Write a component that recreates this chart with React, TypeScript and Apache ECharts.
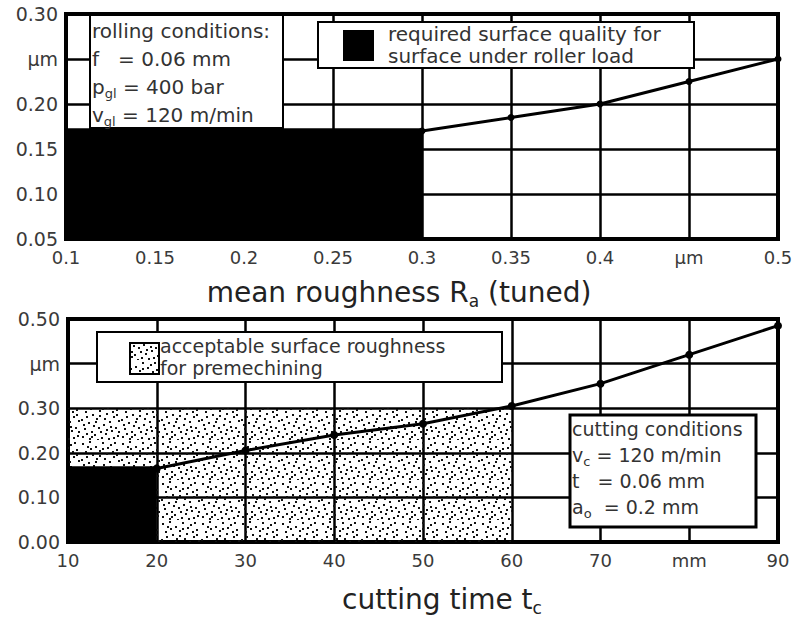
import React, { useEffect, useRef } from "react";
import * as echarts from "echarts";

// ---- data ----
const topXLabels = ["0.1", "0.15", "0.2", "0.25", "0.3", "0.35", "0.4", "µm", "0.5"];
const topYLabels = ["0.05", "0.10", "0.15", "0.20", "µm", "0.30"];
const botXLabels = ["10", "20", "30", "40", "50", "60", "70", "mm", "90"];
const botYLabels = ["0.00", "0.10", "0.20", "0.30", "µm", "0.50"];

// mean roughness Ra (tuned) vs surface roughness
const topX = [0.3, 0.35, 0.4, 0.45, 0.5];
const topY = [0.17, 0.185, 0.2, 0.225, 0.25];
// cutting time vs roughness
const botX = [20, 30, 40, 50, 60, 70, 80, 90];
const botY = [0.165, 0.205, 0.24, 0.265, 0.305, 0.355, 0.42, 0.485];

// regions
const requiredRegionX = [0.1, 0.3];
const requiredRegionY = [0.05, 0.173];
const acceptableRegionX = [10, 60];
const acceptableRegionY = [0, 0.3];
const premachRegionX = [10, 20];
const premachRegionY = [0, 0.17];

const rollingLines = [
  "rolling conditions:",
  "f   = 0.06 mm",
  "p{s|gl} = 400 bar",
  "v{s|gl} = 120 m/min",
];
const cuttingLines = [
  "cutting conditions",
  "v{s|c} = 120 m/min",
  "t   = 0.06 mm",
  "a{s|o}  = 0.2 mm",
];

// stipple texture dots (x, y) inside a 40x40 tile
const dots = [
  [2, 3], [9, 1], [15, 6], [22, 2], [30, 4], [36, 9], [5, 11], [12, 14], [19, 10],
  [26, 13], [33, 16], [38, 20], [1, 19], [8, 22], [16, 18], [23, 24], [29, 21],
  [35, 27], [4, 28], [11, 31], [18, 27], [25, 33], [31, 30], [37, 35], [2, 36],
  [9, 38], [14, 34], [21, 37], [28, 38], [34, 2], [7, 6], [27, 7], [13, 25], [20, 31],
  [32, 11], [6, 16], [24, 18], [38, 31], [17, 39], [10, 8], [3, 24], [22, 8],
  [30, 26], [15, 21], [36, 14], [26, 29], [11, 36], [33, 37], [19, 15], [6, 33],
];

function makePattern() {
  const c = document.createElement("canvas");
  c.width = 40;
  c.height = 40;
  const ctx = c.getContext("2d")!;
  ctx.clearRect(0, 0, 40, 40);
  ctx.fillStyle = "#111";
  dots.forEach(([x, y]) => ctx.fillRect(x, y, 2, 2));
  return { image: c, repeat: "repeat" } as any;
}

const FONT = "DejaVu Sans";
const TXT = "#333";

export default function App() {
  const ref = useRef<HTMLDivElement>(null);
  useEffect(() => {
    const chart = echarts.init(ref.current!, null, { renderer: "svg" });
    const pattern = makePattern();
    const sub = { fontSize: 13, fontFamily: FONT, fill: TXT, padding: [12, 0, 0, 0] } as any;

    const axisLabelStyle = { color: "#3a3a3a", fontFamily: FONT, fontSize: 18 };
    const split = { show: true, lineStyle: { color: "#000", width: 2.5 } };

    const option: any = {
      animation: false,
      backgroundColor: "#fff",
      grid: [
        { left: 66, top: 14, width: 712, height: 225, show: true, borderColor: "#000", borderWidth: 4, backgroundColor: "#fff" },
        { left: 68, top: 319, width: 710, height: 226, show: true, borderColor: "#000", borderWidth: 4, backgroundColor: "#fff" },
      ],
      xAxis: [
        {
          type: "value", gridIndex: 0, min: 0.1, max: 0.5, interval: 0.05,
          axisLine: { show: false }, axisTick: { show: false }, splitLine: split,
          axisLabel: { ...axisLabelStyle, margin: 9, formatter: (v: number) => topXLabels[Math.round((v - 0.1) / 0.05)] ?? "" },
          name: "mean roughness R{s|a} (tuned)", nameLocation: "middle", nameGap: 37,
          nameTextStyle: { color: "#222", fontFamily: FONT, fontSize: 28, padding: [0, 46, 0, 0], rich: { s: { fontSize: 17, fontFamily: FONT, color: "#222", padding: [16, 0, 0, 0] } } },
        },
        {
          type: "value", gridIndex: 1, min: 10, max: 90, interval: 10,
          axisLine: { show: false }, axisTick: { show: false }, splitLine: split,
          axisLabel: { ...axisLabelStyle, margin: 9, formatter: (v: number) => botXLabels[Math.round((v - 10) / 10)] ?? "" },
          name: "cutting time t{s|c}", nameLocation: "middle", nameGap: 41,
          nameTextStyle: { color: "#222", fontFamily: FONT, fontSize: 28, padding: [0, 0, 0, 38], rich: { s: { fontSize: 17, fontFamily: FONT, color: "#222", padding: [16, 0, 0, 0] } } },
        },
      ],
      yAxis: [
        {
          type: "value", gridIndex: 0, min: 0.05, max: 0.3, interval: 0.05,
          axisLine: { show: false }, axisTick: { show: false }, splitLine: split,
          axisLabel: { ...axisLabelStyle, fontSize: 19, margin: 8, formatter: (v: number) => topYLabels[Math.round((v - 0.05) / 0.05)] ?? "" },
        },
        {
          type: "value", gridIndex: 1, min: 0, max: 0.5, interval: 0.1,
          axisLine: { show: false }, axisTick: { show: false }, splitLine: split,
          axisLabel: { ...axisLabelStyle, fontSize: 19, margin: 8, formatter: (v: number) => botYLabels[Math.round(v / 0.1)] ?? "" },
        },
      ],
      series: [
        {
          type: "line", xAxisIndex: 0, yAxisIndex: 0,
          data: topX.map((x, i) => [x, topY[i]]),
          lineStyle: { color: "#000", width: 3 },
          symbol: "circle", symbolSize: 7, itemStyle: { color: "#000" },
          markArea: {
            silent: true,
            itemStyle: { color: "#000", opacity: 1 },
            data: [[{ coord: [requiredRegionX[0], requiredRegionY[0]] }, { coord: [requiredRegionX[1], requiredRegionY[1]] }]],
          },
        },
        {
          type: "line", xAxisIndex: 1, yAxisIndex: 1,
          data: botX.map((x, i) => [x, botY[i]]),
          lineStyle: { color: "#000", width: 3 },
          symbol: "circle", symbolSize: 8, itemStyle: { color: "#000" },
          showSymbol: true,
          markArea: {
            silent: true,
            data: [
              [{ coord: [acceptableRegionX[0], acceptableRegionY[0]], itemStyle: { color: pattern, opacity: 1 } }, { coord: [acceptableRegionX[1], acceptableRegionY[1]] }],
              [{ coord: [premachRegionX[0], premachRegionY[0]], itemStyle: { color: "#000", opacity: 1 } }, { coord: [premachRegionX[1], premachRegionY[1]] }],
            ],
          },
        },
      ],
      graphic: [
        // rolling conditions box
        { type: "rect", z: 100, shape: { x: 90, y: 15, width: 193, height: 113 }, style: { fill: "#fff", stroke: "#000", lineWidth: 2 } },
        {
          type: "text", z: 101, x: 92, y: 17,
          style: { text: rollingLines.join("\n"), fontFamily: FONT, fontSize: 20, fill: TXT, lineHeight: 28, rich: { s: sub } },
        },
        // required surface legend
        { type: "rect", z: 100, shape: { x: 318, y: 22, width: 376, height: 46 }, style: { fill: "#fff", stroke: "#000", lineWidth: 2 } },
        { type: "rect", z: 101, shape: { x: 343, y: 30, width: 31, height: 31 }, style: { fill: "#000" } },
        {
          type: "text", z: 101, x: 388, y: 23,
          style: { text: "required surface quality for\nsurface under roller load", fontFamily: FONT, fontSize: 20, fill: TXT, lineHeight: 22 },
        },
        // acceptable surface legend
        { type: "rect", z: 100, shape: { x: 97, y: 332, width: 405, height: 50 }, style: { fill: "#fff", stroke: "#000", lineWidth: 2 } },
        { type: "rect", z: 101, shape: { x: 130, y: 343, width: 29, height: 31 }, style: { fill: pattern, stroke: "#000", lineWidth: 2 } },
        {
          type: "text", z: 101, x: 160, y: 335,
          style: { text: "acceptable surface roughness\nfor premechining", fontFamily: FONT, fontSize: 19, fill: TXT, lineHeight: 22 },
        },
        // cutting conditions box
        { type: "rect", z: 100, shape: { x: 570, y: 415, width: 186, height: 112 }, style: { fill: "#fff", stroke: "#000", lineWidth: 3 } },
        {
          type: "text", z: 101, x: 572, y: 416,
          style: { text: cuttingLines.join("\n"), fontFamily: FONT, fontSize: 19, fill: TXT, lineHeight: 26, rich: { s: sub } },
        },
      ],
    };
    chart.setOption(option);
    return () => chart.dispose();
  }, []);
  return <div ref={ref} style={{ position: "fixed", left: 0, top: 0, width: 796, height: 617 }} />;
}
